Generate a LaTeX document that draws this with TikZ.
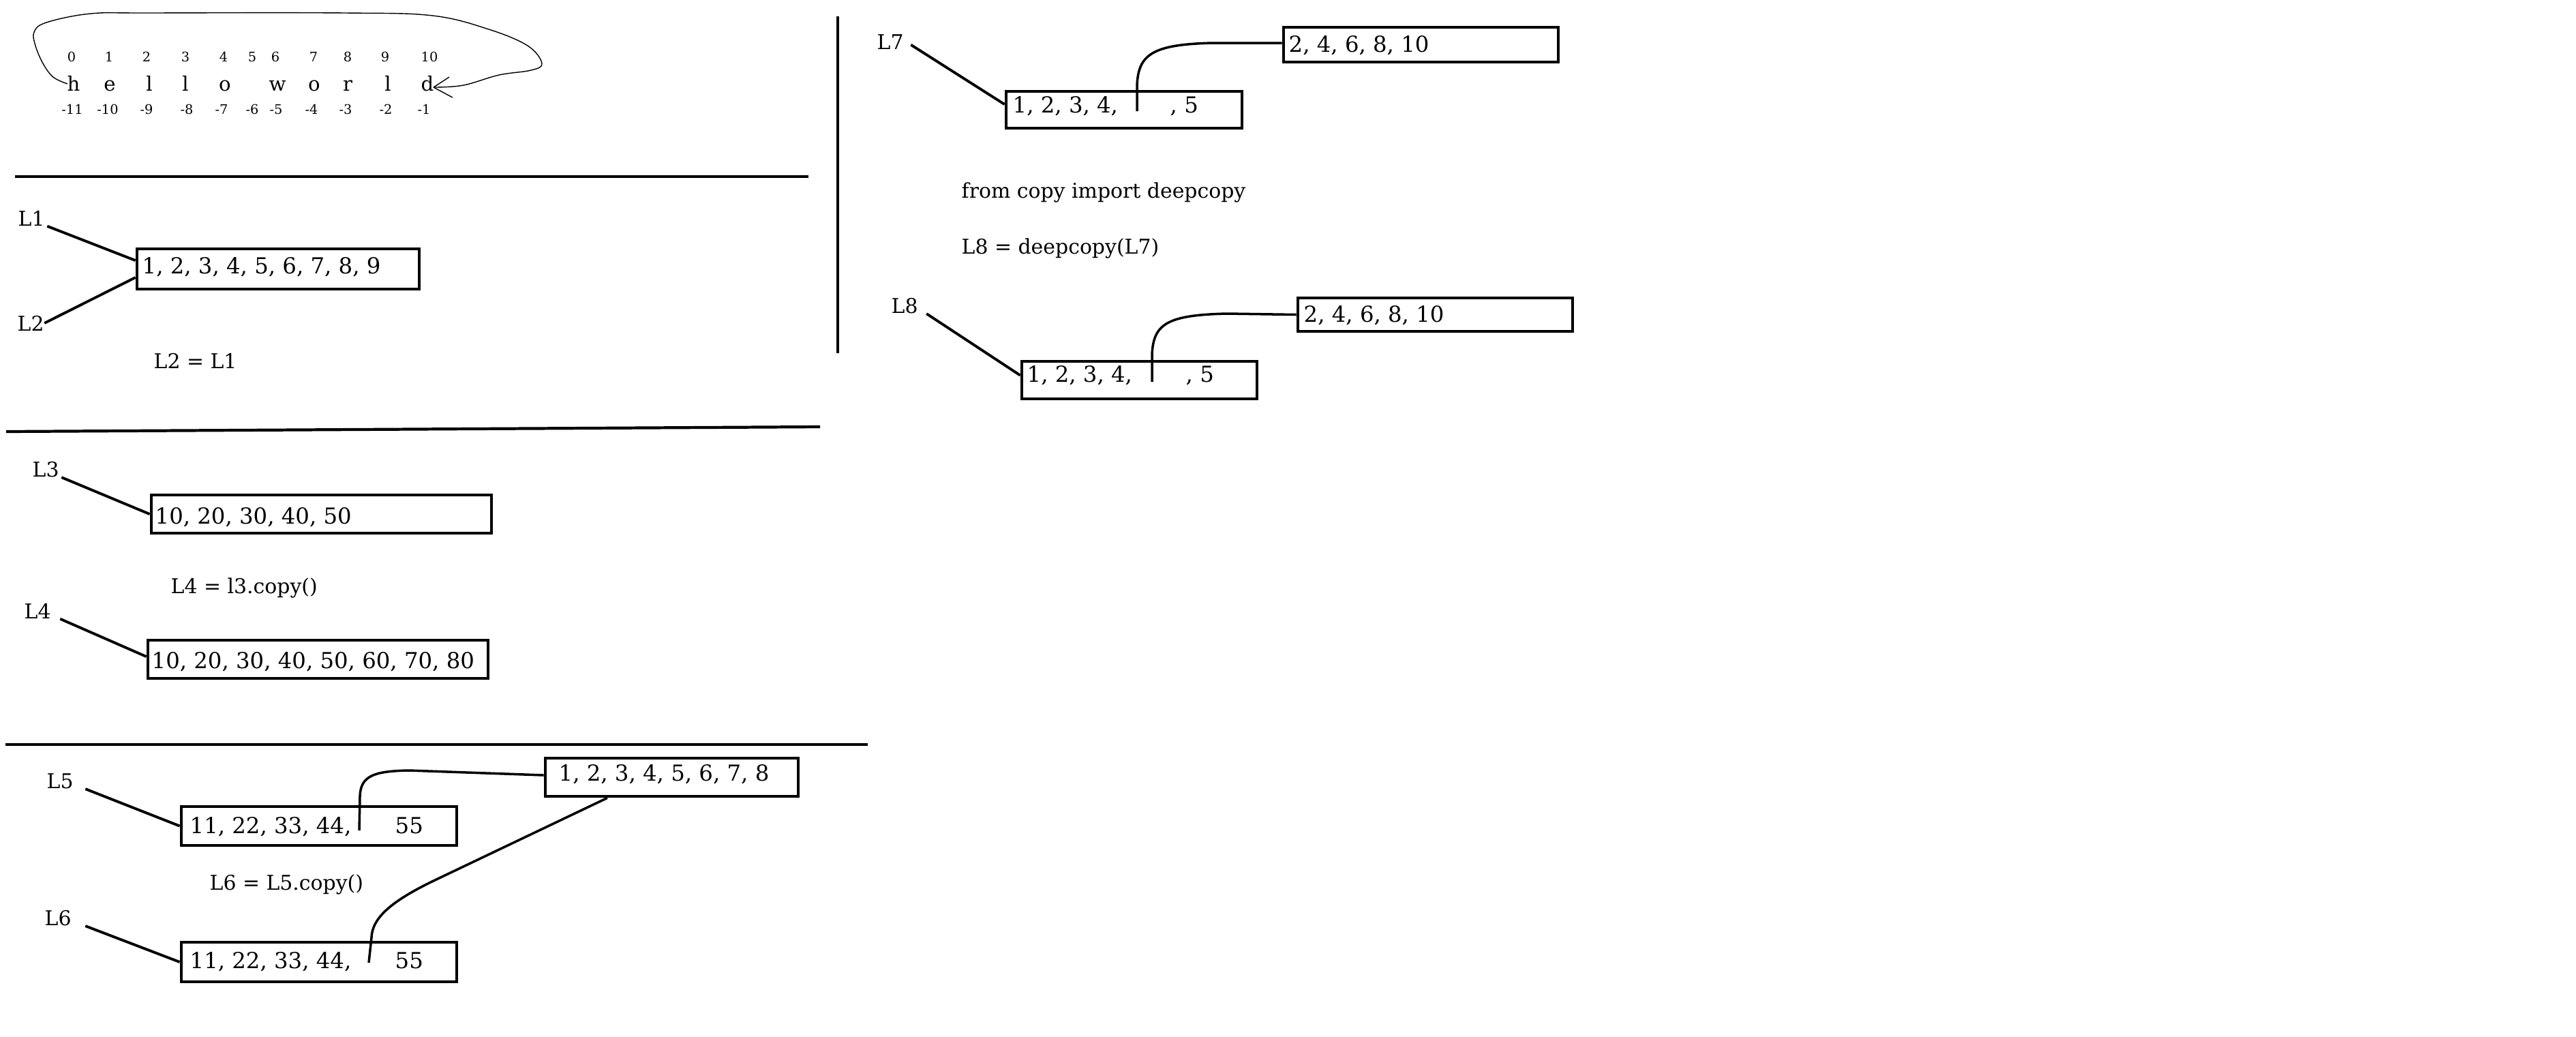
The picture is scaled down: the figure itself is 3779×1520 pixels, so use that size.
\documentclass[tikz,border=0pt]{standalone}
\usepackage{fontspec}
\setmainfont{DejaVu Serif}
\usetikzlibrary{calc}
\begin{document}
\begin{tikzpicture}[x=0.01cm,y=-0.01cm,
  txt/.style={inner sep=0pt, anchor=base west, font=\fontsize{9.2}{11}\selectfont},
  prose/.style={inner sep=0pt, anchor=base west, font=\fontsize{8.5}{10}\selectfont},
  idx/.style={inner sep=0pt, anchor=base, font=\fontsize{5.5}{6}\selectfont},
  chr/.style={inner sep=0pt, anchor=base, font=\fontsize{8.3}{10}\selectfont},
  listbox/.style={draw, line width=1.3pt, rectangle, inner sep=0pt},
  ref/.style={line width=1.1pt},
  ptr/.style={line width=1pt},
  rule/.style={line width=1.2pt},
  scribble/.style={line width=0.4pt},
]
\useasboundingbox (0,0) rectangle (3779,1520);

% ---------- string indexing: hello world ----------
\foreach \x/\n [count=\i] in {105/0,160/1,215/2,272/3,328/4,370/5,404/6,460/7,510/8,565/9,630/10}
  \node[idx] (pos\i) at (\x,90) {\n};
\foreach \x/\c [count=\i] in {108/h,161/e,219/l,272/l,330/o,407/w,461/o,510/r,569/l,627/d}
  \node[chr] (ch\i) at (\x,133) {\c};
\foreach \x/\n [count=\i] in {106/-11,158/-10,215/-9,274/-8,325/-7,370/-6,405/-5,457/-4,507/-3,566/-2,622/-1}
  \node[idx] (neg\i) at (\x,167) {\n};
\draw[scribble] plot[smooth, tension=0.6] coordinates {(99,123) (78,113) (63,93) (52,67) (50,47) (68,33) (133,20) (220,19) (507,19) (635,23) (717,43) (774,67) (795,93) (779,103) (732,110) (680,125) (638,128)};
\coordinate (tip) at (636,128);
\draw[scribble] (tip) -- (659,113);
\draw[scribble] (tip) -- (664,143);

% ---------- separators ----------
\draw[rule] (22,259) -- (1186,259);
\draw[rule] (9,633) -- (1203,626);
\draw[rule] (8,1092) -- (1273,1092);
\draw[rule] (1229,24) -- (1229,518);

% ---------- L2 = L1 ----------
\node[listbox, minimum width=4.14cm, minimum height=0.59cm] (b12) at (408,394.5) {};
\node[txt] (t12) at (208,401) {1, 2, 3, 4, 5, 6, 7, 8, 9};
\node[prose] (L1) at (26,331) {L1};
\node[prose] (L2) at (25,485) {L2};
\draw[ref] ([xshift=0.03cm]L1.south east) -- ([yshift=0.125cm]b12.west);
\draw[ref] (L2.east) -- ([yshift=-0.125cm]b12.west);
\node[prose] (c12) at (225,540) {L2 = L1};

% ---------- L4 = l3.copy() ----------
\node[listbox, minimum width=4.99cm, minimum height=0.56cm] (b3) at (471.5,754) {};
\node[txt] (t3) at (227,768) {10, 20, 30, 40, 50};
\node[prose] (L3) at (47,699) {L3};
\draw[ref] ([xshift=0.03cm]L3.south east) -- (b3.west);
\node[prose] (c34) at (250,870) {L4 = l3.copy()};
\node[listbox, minimum width=4.99cm, minimum height=0.56cm] (b4) at (466.5,967) {};
\node[txt] (t4) at (222,980) {10, 20, 30, 40, 50, 60, 70, 80};
\node[prose] (L4) at (35,907) {L4};
\draw[ref] ([xshift=0.13cm]L4.south east) -- ([yshift=0.04cm]b4.west);

% ---------- L6 = L5.copy() ----------
\node[listbox, minimum width=4.04cm, minimum height=0.57cm] (b5) at (468,1211.5) {};
\node[txt] (t5a) at (278,1222) {11, 22, 33, 44,};
\node[txt] (t5b) at (579,1222) {55};
\node[prose] (L5) at (68,1156) {L5};
\draw[ref] ([xshift=0.17cm]L5.south east) -- (b5.west);
\node[listbox, minimum width=3.71cm, minimum height=0.56cm] (n5) at (985.5,1140) {};
\node[txt] (tn5) at (819,1145) {1, 2, 3, 4, 5, 6, 7, 8};
\coordinate (p5) at (527,1218);
\draw[ptr] (p5) -- (528,1168) .. controls (529,1138) and (548,1131) .. (600,1130) -- ([yshift=0.03cm]n5.west);
\node[prose] (c56) at (307,1305) {L6 = L5.copy()};
\node[listbox, minimum width=4.04cm, minimum height=0.58cm] (b6) at (468,1411) {};
\node[txt] (t6a) at (278,1420) {11, 22, 33, 44,};
\node[txt] (t6b) at (579,1420) {55};
\node[prose] (L6) at (65,1357) {L6};
\draw[ref] ([xshift=0.2cm]L6.south east) -- (b6.west);
\coordinate (p6) at (541,1412);
\draw[ptr] (p6) -- (545,1375) .. controls (546,1345) and (577,1320) .. (640,1290) -- ([xshift=-0.945cm]n5.south);

% ---------- deepcopy ----------
\node[listbox, minimum width=3.46cm, minimum height=0.54cm] (b7) at (1649,161) {};
\node[txt] (t7a) at (1485,165) {1, 2, 3, 4,};
\node[txt] (t7b) at (1716,165) {, 5};
\node[prose] (L7) at (1286,72) {L7};
\draw[ref] ([shift={(0.1cm,0.07cm)}]L7.south east) -- ([yshift=0.08cm]b7.west);
\node[listbox, minimum width=4.03cm, minimum height=0.51cm] (n7) at (2084.5,65.5) {};
\node[txt] (tn7) at (1890,76) {2, 4, 6, 8, 10};
\coordinate (p7) at (1668,163);
\draw[ptr] (p7) -- (1668,125) .. controls (1670,80) and (1690,65) .. (1780,63) -- ([yshift=0.025cm]n7.west);

\node[prose] (imp) at (1410,290) {from copy import deepcopy};
\node[prose] (c78) at (1410,372) {L8 = deepcopy(L7)};

\node[listbox, minimum width=3.45cm, minimum height=0.55cm] (b8) at (1671.5,557.5) {};
\node[txt] (t8a) at (1506,560) {1, 2, 3, 4,};
\node[txt] (t8b) at (1739,560) {, 5};
\node[prose] (L8) at (1307,459) {L8};
\draw[ref] ([xshift=0.12cm]L8.south east) -- ([yshift=0.07cm]b8.west);
\node[listbox, minimum width=4.03cm, minimum height=0.49cm] (n8) at (2105.5,461.5) {};
\node[txt] (tn8) at (1912,472) {2, 4, 6, 8, 10};
\coordinate (p8) at (1690,560);
\draw[ptr] (p8) -- (1690,520) .. controls (1692,475) and (1712,462) .. (1800,460) -- (n8.west);
\end{tikzpicture}
\end{document}
